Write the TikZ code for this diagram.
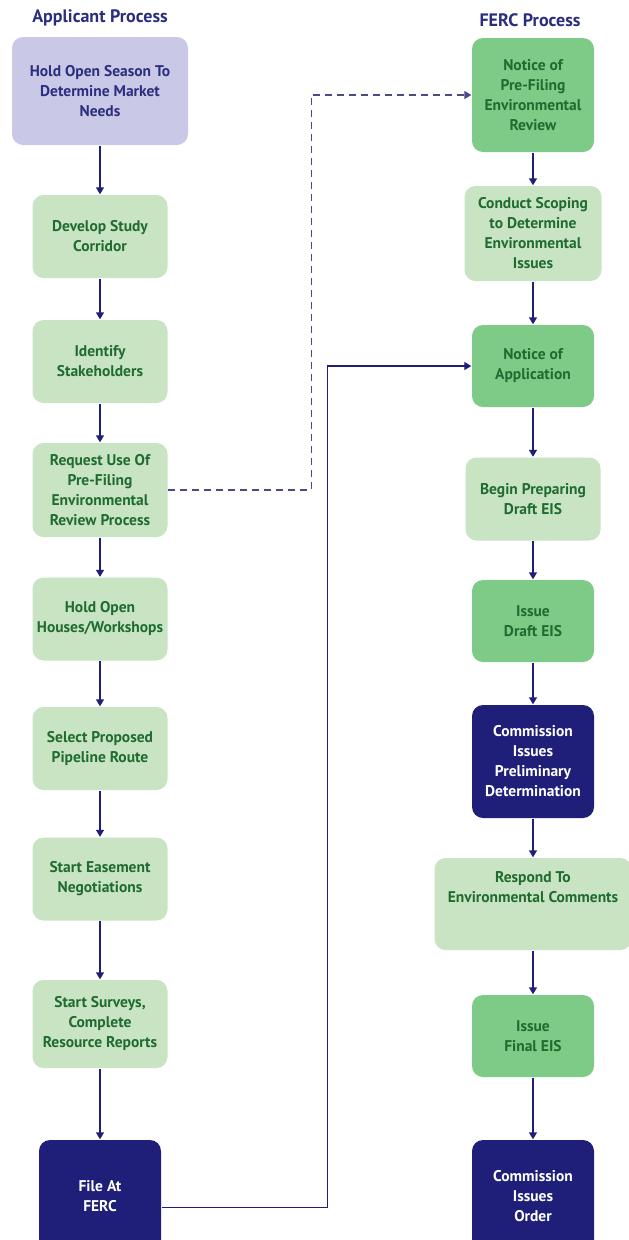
\documentclass[tikz,border=0pt]{standalone}
\usepackage{fontspec}
\setmainfont{PT Sans}
\usetikzlibrary{arrows.meta}

\definecolor{navy}{HTML}{1F1F7A}
\definecolor{headblue}{HTML}{2B2E7E}
\definecolor{lavender}{HTML}{C9C8E6}
\definecolor{lightgreen}{HTML}{C8E4C3}
\definecolor{midgreen}{HTML}{7DCB86}
\definecolor{textgreen}{HTML}{1F6B30}
\definecolor{dashcol}{HTML}{4A4A8A}

\begin{document}
\begin{tikzpicture}[
    x=1pt, y=-1pt,
    >={Triangle[width=8pt,length=7pt]},
    line width=1.4pt,
    box/.style={rounded corners=11pt, align=center, inner sep=0pt,
                font=\bfseries\fontsize{15.5}{20}\selectfont},
    lightbox/.style={box, fill=lightgreen, text=textgreen, minimum width=135pt, minimum height=83pt},
    midbox/.style={box, fill=midgreen, text=textgreen, minimum width=122pt, minimum height=82pt},
    navybox/.style={box, fill=navy, text=white, minimum width=122pt, minimum height=113pt},
    head/.style={font=\bfseries\fontsize{18}{20}\selectfont, text=headblue},
    flow/.style={->, draw=navy}
]
  \useasboundingbox (0,0) rectangle (629,1240);
  \clip (0,0) rectangle (629,1240);

  %--- headings ---
  \node[head] (apphead)  at (100,18) {Applicant Process};
  \node[head] (fercHead) at (530,20) {FERC Process};

  %--- applicant column ---
  \node[box, fill=lavender, text=headblue, minimum width=176pt, minimum height=108pt]
        (season) at (100,91) {Hold Open Season To\\Determine Market\\Needs};
  \node[lightbox] (corridor) at (100,236.5) {Develop Study\\Corridor};
  \node[lightbox] (stake)    at (100,361.5) {Identify\\Stakeholders};
  \node[lightbox, minimum height=94pt] (prefile) at (100,490) {Request Use Of\\Pre-Filing\\Environmental\\Review Process};
  \node[lightbox] (houses)   at (100,619)   {Hold Open\\Houses/Workshops};
  \node[lightbox] (route)    at (100,748.5) {Select Proposed\\Pipeline Route};
  \node[lightbox] (easement) at (100,879)   {Start Easement\\Negotiations};
  \node[lightbox, minimum height=88pt] (surveys) at (100,1024) {Start Surveys,\\Complete\\Resource Reports};
  \node[navybox]  (file)     at (100,1196.5) {File At\\FERC};

  %--- FERC column ---
  \node[midbox, minimum height=114pt] (notice) at (533,95) {Notice of\\Pre-Filing\\Environmental\\Review};
  \node[lightbox, minimum width=137pt, minimum height=95pt] (scoping) at (533,233.5) {Conduct Scoping\\to Determine\\Environmental\\Issues};
  \node[midbox]   (noa)      at (533,366)  {Notice of\\Application};
  \node[lightbox] (prepdeis) at (533,499)  {Begin Preparing\\Draft EIS};
  \node[midbox]   (deis)     at (533,621)  {Issue\\Draft EIS};
  \node[navybox]  (prelim)   at (533,761.5) {Commission\\Issues\\Preliminary\\Determination};
  \node[lightbox, minimum width=197pt, minimum height=92pt] (respond) at (533,904) {Respond To\\Environmental Comments\\[14pt]};
  \node[midbox]   (feis)     at (533,1036) {Issue\\Final EIS};
  \node[navybox]  (order)    at (533,1196.5) {Commission\\Issues\\Order};

  %--- edges ---
  \draw[flow] (season) -- (corridor);
  \draw[flow] (corridor) -- (stake);
  \draw[flow] (stake) -- (prefile);
  \draw[flow] (prefile) -- (houses);
  \draw[flow] (houses) -- (route);
  \draw[flow] (route) -- (easement);
  \draw[flow] (easement) -- (surveys);
  \draw[flow] (surveys) -- (file);

  \draw[flow] (notice) -- (scoping);
  \draw[flow] (scoping) -- (noa);
  \draw[flow] (noa) -- (prepdeis);
  \draw[flow] (prepdeis) -- (deis);
  \draw[flow] (deis) -- (prelim);
  \draw[flow] (prelim) -- (respond);
  \draw[flow] (respond) -- (feis);
  \draw[flow] (feis) -- (order);

  %--- cross links ---
  \draw[flow, draw=dashcol, dash pattern=on 7pt off 5pt] (prefile.east) -- ++(143,0) |- (notice.west);
  \draw[flow, line width=1.2pt] ([yshift=-11pt]file.east) -- ++(166,0) |- (noa.west);
\end{tikzpicture}
\end{document}
